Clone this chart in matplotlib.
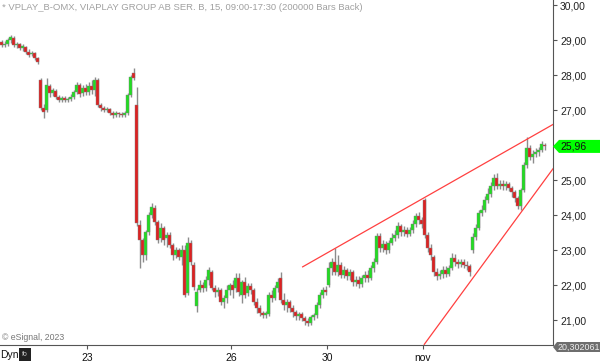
import matplotlib
matplotlib.use("Agg")
import matplotlib.pyplot as plt
from matplotlib.patches import Polygon
import numpy as np

plt.rcParams['font.family'] = ['Liberation Sans', 'DejaVu Sans']

title = "* VPLAY_B-OMX, VIAPLAY GROUP AB SER. B, 15, 09:00-17:30 (200000 Bars Back)"

opens = [28.94,28.86,28.89,29.00,29.06,28.86,28.89,28.77,28.80,28.66,28.60,28.63,28.49,
 27.86,27.06,27.00,27.69,27.49,27.54,27.37,27.29,27.34,27.29,27.31,27.37,27.51,27.71,27.49,27.63,
 27.51,27.69,27.57,27.86,27.14,27.06,27.00,27.03,26.91,26.86,26.91,26.89,26.86,26.91,27.43,28.06,
 27.14,23.71,23.29,22.86,23.51,24.00,24.20,23.80,23.34,23.63,23.34,23.43,23.14,22.86,23.00,22.80,
 23.00,21.77,23.20,22.57,21.40,21.86,22.00,21.91,22.14,22.37,21.91,21.80,21.86,21.51,21.63,21.86,
 22.00,21.91,22.20,21.71,22.09,21.77,21.97,21.86,21.51,21.34,21.20,21.14,21.17,21.71,21.63,21.91,
 22.20,21.57,21.43,21.51,21.34,21.23,21.11,21.17,21.06,20.97,20.91,21.09,21.14,21.43,21.71,21.86,
 22.00,22.49,22.66,22.37,22.57,22.29,22.43,22.26,22.37,22.09,22.14,22.03,22.20,22.29,22.20,22.49,
 22.66,23.40,23.06,23.17,23.00,23.20,23.34,23.43,23.69,23.51,23.57,23.46,23.57,23.74,23.97,23.86,
 24.43,23.43,23.06,22.80,22.37,22.26,22.31,22.43,22.31,22.49,22.77,22.66,22.60,22.66,22.57,22.54,
 23.00,23.37,23.63,24.06,24.14,24.43,24.60,24.83,25.06,24.83,24.89,24.83,24.89,24.77,24.66,24.49,
 24.26,24.71,25.43,25.91,25.66,25.74,25.80,25.86,26.00]
highs = [29.00,28.97,29.06,29.14,29.11,28.94,28.91,28.89,28.83,28.74,28.69,28.66,28.51,
 27.91,27.17,27.91,27.74,27.63,27.60,27.43,27.40,27.40,27.37,27.46,27.57,27.80,27.77,27.71,27.74,
 27.80,27.86,27.94,27.91,27.20,27.11,27.09,27.06,26.97,26.97,26.94,26.94,26.97,27.49,28.00,28.20,
 27.66,23.86,23.34,23.57,24.09,24.34,24.29,23.86,23.77,23.69,23.51,23.51,23.20,23.09,23.06,23.14,
 23.14,23.37,23.29,22.66,21.91,22.14,22.09,22.26,22.51,22.43,22.00,21.94,21.91,21.71,22.00,22.06,
 22.14,22.34,22.34,22.14,22.23,22.06,22.06,21.91,21.63,21.43,21.26,21.26,21.80,21.86,22.00,22.20,
 22.37,21.77,21.60,21.57,21.43,21.29,21.23,21.23,21.11,21.06,21.14,21.20,21.51,21.80,21.94,21.97,
 22.66,22.77,23.06,22.86,22.66,22.54,22.49,22.46,22.43,22.26,22.26,22.29,22.40,22.43,22.57,22.77,
 23.49,23.49,23.29,23.26,23.29,23.49,23.57,23.80,23.74,23.69,23.66,23.66,23.86,24.06,24.09,23.94,
 24.49,23.51,23.17,22.86,22.49,22.43,22.54,22.54,22.57,22.91,22.89,22.74,22.74,22.74,22.69,22.60,
 23.49,23.74,24.14,24.29,24.54,24.77,24.94,25.17,25.20,25.00,25.00,24.97,24.94,24.83,24.71,24.54,
 24.77,25.51,26.23,26.00,25.86,25.91,25.94,26.11,26.06]
lows = [28.80,28.80,28.83,28.91,28.80,28.77,28.71,28.69,28.60,28.51,28.54,28.43,28.31,
 27.00,26.77,26.94,27.37,27.40,27.31,27.23,27.23,27.23,27.23,27.26,27.31,27.46,27.37,27.40,27.43,
 27.43,27.46,27.40,27.09,26.97,26.94,26.94,26.86,26.77,26.80,26.80,26.80,26.80,26.86,27.37,27.86,
 23.69,22.49,22.66,22.71,23.43,23.91,23.71,23.20,23.23,23.14,23.09,23.06,22.71,22.77,22.71,22.57,
 21.66,21.71,22.57,21.86,21.23,21.80,21.80,21.83,22.00,21.86,21.66,21.69,21.43,21.34,21.49,21.71,
 21.63,21.80,21.69,21.49,21.63,21.69,21.74,21.43,21.20,21.11,21.06,21.06,21.11,21.51,21.57,21.80,
 21.49,21.29,21.23,21.23,21.09,21.00,21.00,20.97,20.86,20.83,20.86,21.00,21.06,21.34,21.63,21.71,
 21.94,22.29,22.29,22.26,22.20,22.20,22.14,22.14,21.97,21.97,21.91,21.94,22.09,22.09,22.14,22.37,
 22.60,22.94,22.94,22.89,22.91,23.14,23.26,23.34,23.40,23.40,23.37,23.40,23.49,23.66,23.74,23.63,
 23.34,22.94,22.71,22.26,22.14,22.17,22.20,22.23,22.26,22.43,22.54,22.49,22.51,22.49,22.43,22.26,
 22.91,23.29,23.57,23.97,24.09,24.34,24.51,24.71,24.74,24.74,24.71,24.71,24.69,24.51,24.37,24.17,
 24.14,24.66,25.34,25.57,25.49,25.66,25.69,25.80,25.86]
closes = [28.86,28.89,29.00,29.09,28.86,28.89,28.77,28.83,28.66,28.57,28.63,28.49,28.37,
 27.06,26.94,27.71,27.49,27.57,27.37,27.29,27.34,27.29,27.31,27.37,27.51,27.71,27.46,27.63,27.51,
 27.69,27.57,27.86,27.14,27.06,27.00,27.03,26.91,26.86,26.91,26.89,26.86,26.91,27.43,27.94,27.91,
 23.77,23.29,22.86,23.51,24.00,24.23,23.80,23.29,23.63,23.29,23.43,23.14,22.86,23.00,22.80,23.00,
 21.71,23.20,22.66,21.94,21.80,22.00,21.91,22.14,22.43,21.91,21.80,21.86,21.51,21.63,21.86,22.00,
 21.86,22.20,21.80,22.09,21.71,21.97,21.86,21.51,21.34,21.20,21.14,21.20,21.71,21.63,21.91,22.09,
 21.57,21.43,21.51,21.34,21.23,21.11,21.17,21.06,20.97,20.91,21.09,21.14,21.43,21.71,21.86,21.80,
 22.49,22.66,22.37,22.57,22.29,22.43,22.26,22.37,22.09,22.14,22.03,22.20,22.29,22.20,22.49,22.66,
 23.40,23.06,23.17,23.00,23.20,23.34,23.43,23.69,23.51,23.57,23.46,23.57,23.74,23.97,23.86,23.74,
 23.43,23.06,22.86,22.37,22.26,22.31,22.43,22.31,22.49,22.77,22.66,22.60,22.66,22.57,22.54,22.37,
 23.37,23.63,24.06,24.14,24.43,24.60,24.83,25.06,24.83,24.89,24.83,24.89,24.77,24.66,24.49,24.26,
 24.71,25.43,25.91,25.66,25.74,25.80,25.86,26.03,25.96]

# trading days: number of visible (condensed) bars per day
day_names = ["19", "20", "23", "24", "25", "26", "27", "30", "31", "nov", "2", "3"]
bars_per_day = [13, 16, 16, 16, 16, 16, 16, 16, 16, 16, 16, 9]
tick_days = ["23", "26", "30", "nov"]

y_ticks = [21, 22, 23, 24, 25, 26, 27, 28, 29, 30]
last_price = 25.96
low_label = "20,302061"

# trend lines (bar index, price)
upper_line = [(100.2, 22.51), (184.5, 26.62)]
lower_line = [(140.8, 20.29), (184.5, 25.40)]

W, H = 600, 362
fig = plt.figure(figsize=(W / 100, H / 100), dpi=100)
ax = fig.add_axes([0, 17 / H, 553 / W, 345 / H])

n = len(closes)
idx = np.arange(n)
o = np.array(opens); c = np.array(closes); h = np.array(highs); l = np.array(lows)
up = c >= o
green = "#22dd22"
red = "#dd2222"
edge = "#808080"

ax.vlines(idx, l, h, color="#8c8c8c", linewidth=1.0, zorder=2)
bottoms = np.minimum(o, c)
heights = np.maximum(np.abs(c - o), 0.03)
ax.bar(idx[up], heights[up], bottom=bottoms[up], width=0.8, color=green,
       edgecolor=edge, linewidth=0.3, zorder=3)
ax.bar(idx[~up], heights[~up], bottom=bottoms[~up], width=0.8, color=red,
       edgecolor=edge, linewidth=0.3, zorder=3)

for line in (upper_line, lower_line):
    xs = [p[0] for p in line]; ys = [p[1] for p in line]
    ax.plot(xs, ys, color="#ff4040", linewidth=0.9, zorder=4, solid_capstyle="butt")

ax.set_xlim(-0.5, 183.83)
ax.set_ylim(20.286, 30.143)

starts = np.cumsum([0] + bars_per_day[:-1])
tick_pos = [starts[day_names.index(d)] - 0.5 for d in tick_days]
ax.set_xticks(tick_pos)
ax.set_xticklabels(tick_days)
ax.tick_params(axis="x", direction="out", length=3, width=0.8, colors="#555555",
               labelcolor="#111111", labelsize=7.5, pad=3)

ax.yaxis.tick_right()
ax.set_yticks(y_ticks)
ax.set_yticklabels([f"{v:.2f}".replace(".", ",") for v in y_ticks])
ax.tick_params(axis="y", direction="out", length=3, width=0.8, colors="#555555",
               labelcolor="#222222", labelsize=7.5, pad=2)

for s in ("top", "left"):
    ax.spines[s].set_visible(False)
ax.spines["right"].set_color("#555555")
ax.spines["bottom"].set_color("#555555")

fig.text(2 / W, 1 - 7 / H, title, fontsize=6.8, color="#a0a0a0", va="center", ha="left")
fig.text(2 / W, 1 - 337 / H, "© eSignal, 2023", fontsize=6.3, color="#777777", va="center", ha="left")
fig.text(0 / W, 1 - 355 / H, "Dyn", fontsize=7.5, color="#111111", va="center", ha="left")
fig.patches.append(matplotlib.patches.Rectangle((19 / W, 1 - 361 / H), 12 / W, 13 / H,
                   transform=fig.transFigure, facecolor="#222222", edgecolor="none"))
fig.text(25 / W, 1 - 354.5 / H, "fo", fontsize=5, color="#cccccc", va="center", ha="center")

def px(x, y):
    return (x / W, 1 - y / H)

yc = ax.transData.transform((0, last_price))[1]
ycp = H - yc
pts = [px(553, ycp), px(559, ycp - 6.5), px(600, ycp - 6.5), px(600, ycp + 6.5), px(559, ycp + 6.5)]
fig.patches.append(Polygon(pts, closed=True, transform=fig.transFigure,
                           facecolor="#00ff00", edgecolor="none"))
fig.text(560 / W, 1 - ycp / H, f"{last_price:.2f}".replace(".", ","), fontsize=7.5,
         color="#111111", va="center", ha="left")

yb = 347
pts2 = [px(553, yb), px(557, yb - 5), px(600, yb - 5), px(600, yb + 5), px(557, yb + 5)]
fig.patches.append(Polygon(pts2, closed=True, transform=fig.transFigure,
                           facecolor="#6e6e6e", edgecolor="none"))
fig.text(557.5 / W, 1 - yb / H, low_label, fontsize=6.4, color="#f0f0f0", va="center", ha="left")

fig.savefig("out.png", dpi=100)
